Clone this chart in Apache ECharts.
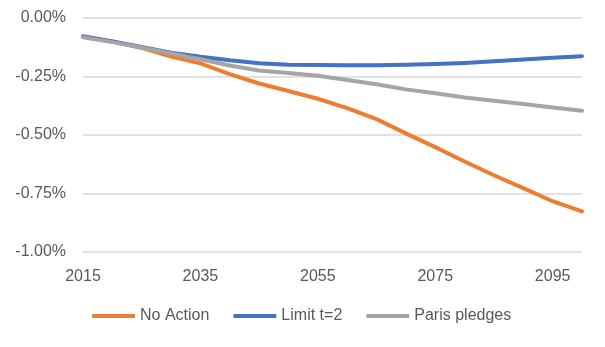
<!DOCTYPE html>
<html>
<head>
<meta charset="utf-8">
<script src="https://cdn.jsdelivr.net/npm/echarts@6/dist/echarts.min.js"></script>
<style>html,body{margin:0;padding:0;background:#fff}#c{width:605px;height:347px}</style>
</head>
<body>
<div id="c"></div>
<script>
var years = [2015,2020,2025,2030,2035,2040,2045,2050,2055,2060,2065,2070,2075,2080,2085,2090,2095,2100];
var noAction = [-0.080,-0.100,-0.128,-0.165,-0.194,-0.240,-0.280,-0.312,-0.345,-0.385,-0.432,-0.493,-0.552,-0.613,-0.672,-0.727,-0.783,-0.826];
var limitT2 = [-0.078,-0.100,-0.124,-0.148,-0.166,-0.181,-0.193,-0.200,-0.201,-0.202,-0.202,-0.200,-0.197,-0.192,-0.185,-0.177,-0.170,-0.163];
var parisPledges = [-0.082,-0.103,-0.126,-0.152,-0.176,-0.203,-0.224,-0.235,-0.247,-0.265,-0.283,-0.305,-0.322,-0.340,-0.354,-0.368,-0.382,-0.396];
var xTickLabels = [2015,2035,2055,2075,2095];
var seriesNames = ['No Action','Limit t=2','Paris pledges'];
var colors = ['#ED7D31','#4472C4','#A5A5A5'];

function pairs(arr){ return years.map(function(y,i){ return [y, arr[i]]; }); }
var allData = [noAction, limitT2, parisPledges];
var font = 'Liberation Sans';
var chart = echarts.init(document.getElementById('c'));
chart.setOption({
  animation: false,
  color: colors,
  grid: {left: 83, right: 23, top: 18, bottom: 95},
  xAxis: {
    type: 'value', min: 2015, max: 2100,
    axisLine: {show: false}, axisTick: {show: false},
    splitLine: {show: false},
    axisLabel: {customValues: xTickLabels, color: '#595959', fontFamily: font, fontSize: 16, margin: 17,
      formatter: function(v){ return String(v); }}
  },
  yAxis: {
    type: 'value', min: -1, max: 0, interval: 0.25,
    axisLine: {show: false}, axisTick: {show: false},
    splitLine: {lineStyle: {color: '#d9d9d9', width: 1.5}},
    axisLabel: {color: '#595959', fontFamily: font, fontSize: 16, margin: 17,
      formatter: function(v){ return v.toFixed(2) + '%'; }}
  },
  legend: {
    left: 92, top: 308, padding: 0, itemWidth: 43, itemHeight: 4, itemGap: 24, icon: 'roundRect',
    textStyle: {color: '#595959', fontFamily: font, fontSize: 16},
    data: seriesNames
  },
  series: seriesNames.map(function(n, i){
    return {name: n, type: 'line', data: pairs(allData[i]), showSymbol: false, smooth: false,
      lineStyle: {width: 4, color: colors[i], cap: 'round', join: 'round'}};
  })
});
</script>
</body>
</html>
